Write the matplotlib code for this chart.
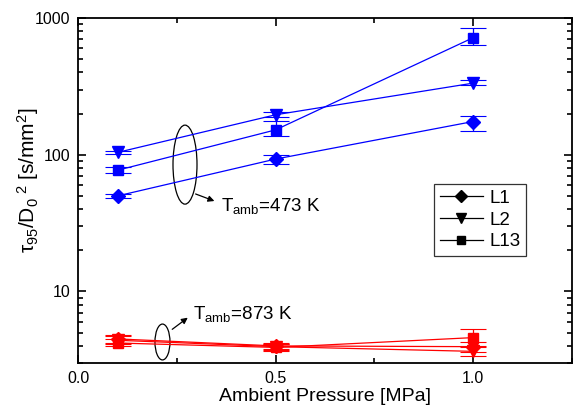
import matplotlib
matplotlib.use("Agg")
import matplotlib.pyplot as plt
from matplotlib.patches import Ellipse
from matplotlib.lines import Line2D
from matplotlib.ticker import MultipleLocator, LogLocator, NullFormatter, FixedLocator, FixedFormatter

plt.rcParams['font.family'] = ['Liberation Sans', 'DejaVu Sans']
plt.rcParams['mathtext.fontset'] = 'custom'
plt.rcParams['mathtext.rm'] = 'Liberation Sans'
plt.rcParams['mathtext.it'] = 'Liberation Sans'
plt.rcParams['mathtext.bf'] = 'Liberation Sans:bold'

pressure = [0.1, 0.5, 1.0]

# T_amb = 473 K (blue)
L1_473 = [50, 93, 175]
L1_473_lo = [48, 86, 150]
L1_473_hi = [52, 100, 193]
L2_473 = [104, 196, 334]
L2_473_lo = [101, 188, 322]
L2_473_hi = [107, 204, 352]
L13_473 = [77, 152, 718]
L13_473_lo = [73, 136, 636]
L13_473_hi = [82, 177, 841]

# T_amb = 873 K (red)
L1_873 = [4.5, 4.0, 3.95]
L1_873_lo = [4.2, 3.8, 3.6]
L1_873_hi = [4.8, 4.2, 4.3]
L2_873 = [4.4, 3.95, 3.65]
L2_873_lo = [4.1, 3.75, 3.4]
L2_873_hi = [4.7, 4.15, 3.9]
L13_873 = [4.2, 3.9, 4.6]
L13_873_lo = [4.0, 3.7, 4.0]
L13_873_hi = [4.5, 4.1, 5.3]

series_names = ['L1', 'L2', 'L13']
markers = {'L1': 'D', 'L2': 'v', 'L13': 's'}
msizes = {'L1': 7, 'L2': 8, 'L13': 6.5}

fig = plt.figure(figsize=(5.75, 4.07), dpi=100)
ax = fig.add_axes([78/575, 44/407, 494/575, 345/407])

def draw(vals, lo, hi, name, color):
    yerr = [[v - l for v, l in zip(vals, lo)], [h - v for v, h in zip(vals, hi)]]
    ax.errorbar(pressure, vals, yerr=yerr, color=color, marker=markers[name],
                ms=msizes[name], lw=0.9, elinewidth=0.9, capsize=9.5,
                capthick=0.8, mec=color, mfc=color)

draw(L1_473, L1_473_lo, L1_473_hi, 'L1', '#0000ff')
draw(L2_473, L2_473_lo, L2_473_hi, 'L2', '#0000ff')
draw(L13_473, L13_473_lo, L13_473_hi, 'L13', '#0000ff')
draw(L1_873, L1_873_lo, L1_873_hi, 'L1', '#ff0000')
draw(L2_873, L2_873_lo, L2_873_hi, 'L2', '#ff0000')
draw(L13_873, L13_873_lo, L13_873_hi, 'L13', '#ff0000')

ax.set_yscale('log')
ax.set_xlim(0, 1.25)
ax.set_ylim(3, 1000)
ax.xaxis.set_major_locator(FixedLocator([0.0, 0.5, 1.0]))
ax.xaxis.set_major_formatter(FixedFormatter(['0.0', '0.5', '1.0']))
ax.xaxis.set_minor_locator(MultipleLocator(0.25))
ax.yaxis.set_major_locator(FixedLocator([10, 100, 1000]))
ax.yaxis.set_major_formatter(FixedFormatter(['10', '100', '1000']))
ax.yaxis.set_minor_locator(LogLocator(base=10, subs=range(2, 10)))
ax.yaxis.set_minor_formatter(NullFormatter())
ax.tick_params(which='both', direction='in', top=True, right=True, labelsize=11.5, width=1.2)
ax.tick_params(which='major', length=6, pad=5.5)
ax.tick_params(which='minor', length=3.5)
for s in ax.spines.values():
    s.set_linewidth(1.3)

ax.set_xlabel('Ambient Pressure [MPa]', fontsize=14, labelpad=2)
ax.set_ylabel(r'$\tau_{95}$/D$_0$$^{\ 2}$ [s/mm$^2$]', fontsize=15)
ax.yaxis.set_label_coords(-0.075, 0.53)

# legend
handles = [Line2D([], [], color='black', marker=markers[n], ms=msizes[n] - 0.5, lw=0.9) for n in series_names]
leg = ax.legend(handles, series_names, loc='upper left', bbox_to_anchor=(0.7206, 0.519),
                borderaxespad=0, fontsize=13.5, frameon=True, fancybox=False, edgecolor='black',
                handlelength=2.3, handletextpad=0.35, borderpad=0.3, labelspacing=0.25)
leg.get_frame().set_linewidth(0.9)

# annotations
ax.add_patch(Ellipse((0.2166, 0.575), 0.0486, 0.229, transform=ax.transAxes,
                     fill=False, ec='black', lw=0.9))
ax.annotate('', xy=((217-78)/494, (363-202)/345), xytext=((193-78)/494, (363-193)/345),
            xycoords='axes fraction', textcoords='axes fraction',
            arrowprops=dict(arrowstyle='-|>', color='black', lw=0.9, mutation_scale=9))
ax.text((221-78)/494, (363-206)/345, r'T$_{\mathregular{amb}}$=473 K', transform=ax.transAxes,
        fontsize=13.5, va='center', ha='left')

ax.add_patch(Ellipse((0.171, 0.0609), 0.0304, 0.104, transform=ax.transAxes,
                     fill=False, ec='black', lw=0.9))
ax.annotate('', xy=((190-78)/494, (363-316)/345), xytext=((170-78)/494, (363-331)/345),
            xycoords='axes fraction', textcoords='axes fraction',
            arrowprops=dict(arrowstyle='-|>', color='black', lw=0.9, mutation_scale=9))
ax.text((193-78)/494, (363-314)/345, r'T$_{\mathregular{amb}}$=873 K', transform=ax.transAxes,
        fontsize=13.5, va='center', ha='left')

fig.savefig('out.png', dpi=100)
